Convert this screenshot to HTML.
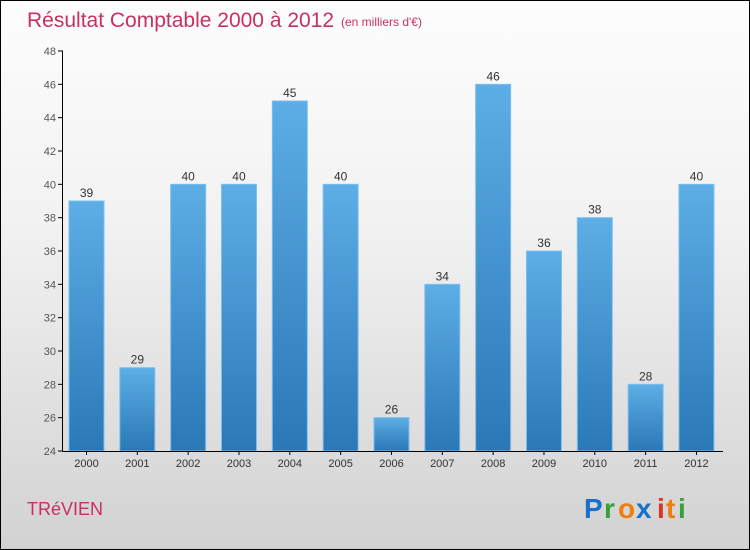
<!DOCTYPE html>
<html><head><meta charset="utf-8"><style>
body{margin:0}
#c{width:750px;height:550px;position:relative;overflow:hidden;border:1px solid #000;box-sizing:border-box;background:linear-gradient(#fdfdfd,#f2f2f2 40%,#d2d2d2);font-family:"Liberation Sans",sans-serif}
</style></head><body>
<div id="c">
<svg id="s" width="750" height="550" style="position:absolute;left:0;top:0">
<defs><linearGradient id="g" x1="0" y1="0" x2="0" y2="1"><stop offset="0" stop-color="#5dade6"/><stop offset="1" stop-color="#2a78b6"/></linearGradient></defs>
<text x="26" y="26" font-size="21" fill="#c8315f">Résultat Comptable 2000 à 2012</text>
<text x="340" y="25" font-size="12" fill="#c8315f">(en milliers d'€)</text>
<text x="26" y="514" font-size="18" fill="#c8315f">TRéVIEN</text>
<g font-size="28" font-weight="bold">
<text x="583" y="517" fill="#1a6fc9">P</text><text x="603" y="517" fill="#3aa13a">r</text><text x="617" y="517" fill="#f07d10">o</text><text x="635" y="517" fill="#1a6fc9">x</text><text x="656" y="517" fill="#e0301e">i</text><text x="665" y="517" fill="#f07d10">t</text><text x="677" y="517" fill="#3aa13a">i</text>
</g>
<g id="plot"></g>
</svg></div>
<script>
const categories=["2000","2001","2002","2003","2004","2005","2006","2007","2008","2009","2010","2011","2012"];
const values=[39,29,40,40,45,40,26,34,46,36,38,28,40];
const yTicks=[24,26,28,30,32,34,36,38,40,42,44,46,48];
const NS="http://www.w3.org/2000/svg";
const g=document.getElementById("plot");
const y=v=>450-(v-24)*400/24;
const x=i=>68+i*50.83;
function el(t,a,txt){const e=document.createElementNS(NS,t);for(const k in a)e.setAttribute(k,a[k]);if(txt!==undefined)e.textContent=txt;g.appendChild(e);return e;}
yTicks.forEach(t=>{
 const tk=el("line",{x1:57,x2:62,y1:y(t),y2:y(t),stroke:"#000"});
 
 
 const lb=el("text",{x:55,y:y(t)+4,"text-anchor":"end","font-size":11,fill:"#555"},t);
 
 
});
values.forEach((v,i)=>{
 const b=el("rect",{x:x(i),y:y(v),width:35,height:450-y(v),fill:"url(#g)",stroke:"#7cc0ef","stroke-width":1});
 
 
 const vl=el("text",{x:x(i)+17.5,y:y(v)-4,"text-anchor":"middle","font-size":12,fill:"#333"},v);
 
 
 const xl=el("text",{x:x(i)+17.5,y:466,"text-anchor":"middle","font-size":11,fill:"#333"},categories[i]);
 
 
 const xt=el("line",{x1:x(i)+17.5,x2:x(i)+17.5,y1:450,y2:454,stroke:"#000"});
 
 
});
const ya=el("line",{x1:61.5,x2:61.5,y1:50,y2:450,stroke:"#000"});


const xa=el("line",{x1:61.5,x2:722,y1:450.5,y2:450.5,stroke:"#000"});


</script>
</body></html>
